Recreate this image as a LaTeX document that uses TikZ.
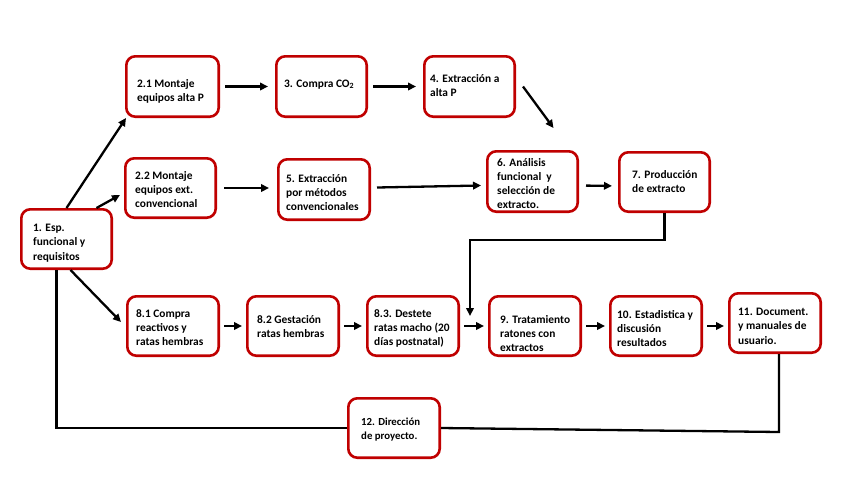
\documentclass[tikz,border=0pt]{standalone}
\usepackage{fontspec}
\setmainfont{Carlito}
\usetikzlibrary{arrows.meta,calc}
\definecolor{boxred}{RGB}{192,0,0}
\newcommand\mkbox[5]{\node[box,minimum width={#4-#2-2.6},minimum height={#5-#3-2.6}] (#1) at ({(#2+#4)/2},{(#3+#5)/2}) {};}
\begin{document}
\begin{tikzpicture}[x=1pt,y=-1pt,
  box/.style={draw=boxred,line width=2.6pt,rounded corners=9pt,fill=white,inner sep=0pt},
  txt/.style={anchor=north west,align=left,inner sep=0pt,font=\fontsize{11.4}{14.2}\selectfont\bfseries,
    execute at begin node={\rule{0pt}{9pt}}},
  arr/.style={line width=2.3pt,-{Triangle[length=8pt,width=7.5pt]}},
  ln/.style={line width=2.3pt}]
\useasboundingbox[fill=white] (0,0) rectangle (848,477);
\mkbox{n1}{20}{208}{113}{270}
\mkbox{n21}{125}{55}{220}{118}
\mkbox{n3}{275}{55}{368}{118}
\mkbox{n4}{423}{55}{516}{118}
\mkbox{n22}{124}{157}{217}{219}
\mkbox{n5}{277}{158}{371}{221}
\mkbox{n6}{486}{150}{579}{213}
\mkbox{n7}{618}{151}{711}{213}
\mkbox{n81}{126}{295}{220}{357}
\mkbox{n82}{246}{295}{340}{357}
\mkbox{n83}{366}{295}{460}{357}
\mkbox{n9}{488}{295}{582}{357}
\mkbox{n10}{609}{295}{703}{357}
\mkbox{n11}{728}{292}{822}{354}
\mkbox{n12}{347}{397}{441}{459}
\node[txt] (t1) at (33,224) {1. Esp.\\funcional y\\requisitos};
\node[txt] (t21) at (137,79) {2.1 Montaje\\equipos alta P};
\node[txt] (t3) at (284,78) {3. Compra CO\textsubscript{2}};
\node[txt] (t4) at (430,74) {4. Extracción a\\alta P};
\node[txt] (t22) at (135,171) {2.2 Montaje\\equipos ext.\\convencional};
\node[txt] (t5) at (286,174) {5. Extracción\\por métodos\\convencionales};
\node[txt] (t6) at (497,158) {6. Análisis\\funcional\ \ y\\selección de\\extracto.};
\node[txt] (t7) at (632,170) {7. Producción\\de extracto};
\node[txt] (t81) at (136,309) {8.1 Compra\\reactivos y\\ratas hembras};
\node[txt] (t82) at (257,315) {8.2 Gestación\\ratas hembras};
\node[txt] (t83) at (374,309) {8.3. Destete\\ratas macho (20\\días postnatal)};
\node[txt] (t9) at (500,315) {9. Tratamiento\\ratones con\\extractos};
\node[txt] (t10) at (617,310) {10. Estadistica y\\discusión\\resultados};
\node[txt] (t11) at (738,308) {11. Document.\\y manuales de\\usuario.};
\node[txt,font=\fontsize{10.8}{13.5}\selectfont\bfseries] (t12) at (361,418) {12. Dirección\\de proyecto.};
% arrows
\draw[arr] (n1.north) -- ($(n21.south west)+(1,0)$);
\draw[arr] ($(n1.north)+(30,0)$) -- ($(n22.west)+(-4,7)$);
\draw[arr] ($(n1.south)+(4,0)$) -- ($(n81.west)+(-5,-4)$);
\draw[arr,shorten <=5pt,shorten >=7pt] (n21.east) -- (n21.east -| n3.west);
\draw[arr,shorten <=5pt,shorten >=7pt] (n3.east) -- (n3.east -| n4.west);
\draw[arr] ($(n4.east)+(7,0)$) -- ($(n6.north)+(21,-22)$);
\draw[arr,shorten <=7pt,shorten >=8pt] (n22.east) -- (n22.east -| n5.west);
\draw[arr] ($(n5.east)+(6,-2)$) -- ($(n6.west)+(-5,4)$);
\draw[arr,shorten <=7pt,shorten >=6pt] ($(n6.east)+(0,4)$) -- ($(n7.west)+(0,4)$);
\draw[arr] (n7.south) -- ++(0,27) -| ($(n9.west)+(-18,-10)$);
\draw[arr,shorten <=4pt,shorten >=4pt] (n81.east) -- (n82.west);
\draw[arr,shorten <=4pt,shorten >=4pt] (n82.east) -- (n83.west);
\draw[arr,shorten <=4pt,shorten >=4pt] (n83.east) -- (n9.west);
\draw[arr,shorten <=4pt,shorten >=4pt] (n9.east) -- (n10.west);
\draw[arr,shorten <=4pt,shorten >=4pt] (n10.east) -- (n10.east -| n11.west);
\draw[ln] ($(n1.south)+(-10,0)$) |- (n12.west);
\draw[ln] ($(n11.south)+(4,0)$) -- ++(0,78) -- (n12.east);
\end{tikzpicture}
\end{document}
